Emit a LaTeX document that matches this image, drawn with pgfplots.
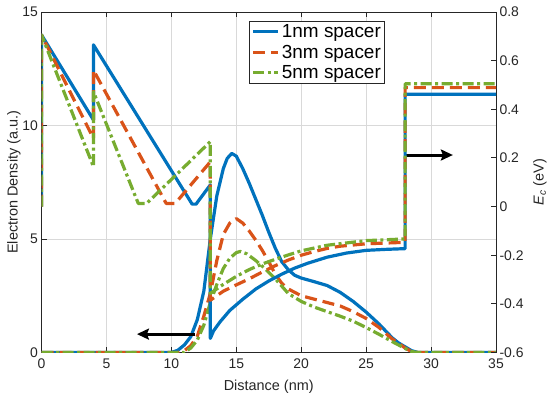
\documentclass[border=0pt]{standalone}
\usepackage{fontspec}
\setmainfont{Liberation Sans}
\usepackage{pgfplots}
\pgfplotsset{compat=1.18}
\usetikzlibrary{arrows.meta}
\definecolor{mblue}{RGB}{0,114,189}
\definecolor{morange}{RGB}{217,83,25}
\definecolor{mgreen}{RGB}{119,172,48}
\definecolor{axgray}{RGB}{38,38,38}
\begin{document}
\begin{tikzpicture}
\path[use as bounding box] (0,0) rectangle (548bp,395bp);
\pgfplotsset{
  common/.style={
    width=454.5bp, height=340.5bp, scale only axis,
    at={(41.5bp,42.5bp)}, anchor=south west,
    xmin=0, xmax=35,
    /pgf/number format/assume math mode=true,
    tick label style={font=\fontsize{14}{16}\selectfont, text=axgray},
    label style={font=\fontsize{14.5}{17}\selectfont, text=axgray},
    axis line style={draw=axgray, line width=0.9bp},
    tick style={draw=axgray, line width=0.9bp},
    tick align=inside, major tick length=5bp,
    legend image code/.code={\draw[##1] (0bp,0bp) -- (25bp,0bp);},
  },
  lb/.style={mblue, line width=3.2bp, line join=round},
  lo/.style={morange, line width=3.2bp, line join=round, dash pattern=on 12bp off 6bp},
  lg/.style={mgreen, line width=3.2bp, line join=round, dash pattern=on 11bp off 3.5bp on 3bp off 3.5bp},
}
% ---------------- left axis: electron density ----------------
\begin{axis}[common, ymin=0, ymax=15,
  xtick={0,5,...,35}, ytick={0,5,10,15}, ytick pos=left,
  xticklabel style={yshift=-3bp},
  grid=major, grid style={draw=black!15, line width=0.7bp},
  xlabel={Distance (nm)}, ylabel={Electron Density (a.u.)},
  xlabel style={at={(axis description cs:0.5,-0.1)}, anchor=center},
  ylabel style={at={(axis description cs:-0.0605,0.5)}, anchor=center}]
\addplot[lb] coordinates {(0,0)(10,0)(10.5,0.1)(11,0.33)(11.5,0.7)(12,1.45)(12.5,2.7)(13,5.0)(13.5,6.9)(14,8.1)(14.3,8.55)(14.65,8.77)(15,8.65)(15.5,8.1)(16,7.45)(16.5,6.75)(17,6.05)(17.5,5.3)(18,4.6)(18.5,4.0)(19,3.65)(19.5,3.4)(20,3.28)(21,3.12)(22,2.95)(23,2.65)(24,2.25)(25,1.78)(26,1.25)(27,0.65)(27.5,0.42)(28,0.25)(28.5,0.08)(29,0)(35,0)};
\addplot[lo] coordinates {(0,0)(10.5,0)(11,0.08)(11.5,0.3)(12,0.72)(12.5,1.6)(13,2.6)(13.5,4.05)(14,5.2)(14.5,5.7)(15,5.9)(15.5,5.7)(16,5.35)(16.5,4.95)(17,4.5)(17.5,4.0)(18,3.45)(18.5,3.05)(19,2.8)(20,2.5)(21,2.35)(22,2.2)(23,2.05)(24,1.8)(25,1.5)(26,1.1)(27,0.6)(28,0.2)(28.5,0.04)(29,0)(35,0)};
\addplot[lg] coordinates {(0,0)(11,0)(11.5,0.2)(12,0.55)(12.5,1.2)(13,2.2)(13.5,3.0)(14,3.7)(14.5,4.15)(15,4.4)(15.3,4.45)(15.8,4.35)(16.5,4.05)(17.2,3.7)(18,3.25)(19,2.6)(20,2.25)(21,2.0)(22,1.8)(23,1.6)(24,1.38)(25,1.1)(26,0.8)(27,0.48)(28,0.18)(28.5,0.04)(29,0)(35,0)};
\draw[line width=3bp, -{Stealth[length=12bp,width=11bp,inset=2bp]}] (axis cs:11.82,0.81) -- (axis cs:7.35,0.81);
\draw[line width=3bp, -{Stealth[length=12bp,width=11bp,inset=2bp]}] (axis cs:28.1,8.7) -- (axis cs:31.68,8.7);
\end{axis}
% ---------------- right axis: conduction band ----------------
\begin{axis}[common, ymin=-0.6, ymax=0.8,
  axis y line*=right, axis x line=none,
  ytick={-0.6,-0.4,-0.2,0,0.2,0.4,0.6,0.8},
  ylabel={\textit{E}\textsubscript{\textit{c}} (eV)},
  ylabel style={at={(axis description cs:1.0968,0.5)}, anchor=center},
  legend style={at={(rel axis cs:0.4572,0.9736)}, anchor=north west,
    font=\fontsize{19}{22}\selectfont, draw=axgray, line width=0.9bp, fill=white,
    inner xsep=2bp, inner ysep=1bp, row sep=2bp},
  legend cell align=left]
\addplot[lb] coordinates {(0,0)(0,0.706)(4,0.356)(4,0.665)(11.6,0.01)(11.9,0.01)(13,0.089)(13,-0.542)(13.25,-0.511)(13.75,-0.474)(14.5,-0.427)(15.5,-0.381)(16.5,-0.339)(17.5,-0.306)(18.5,-0.278)(19.5,-0.253)(20.5,-0.233)(22,-0.208)(23.5,-0.191)(25,-0.18)(26.5,-0.176)(28,-0.173)(28,0.462)(35,0.462)};
\addlegendentry{1nm spacer}
\addplot[lo] coordinates {(0,0)(0,0.706)(4,0.280)(4,0.561)(9.6,0.013)(10.3,0.013)(13,0.184)(13,-0.385)(14,-0.348)(15,-0.322)(16,-0.297)(17,-0.269)(18,-0.243)(19,-0.22)(20,-0.2)(21,-0.185)(22,-0.172)(23,-0.163)(25,-0.153)(27,-0.149)(28,-0.147)(28,0.489)(35,0.489)};
\addlegendentry{3nm spacer}
\addplot[lg] coordinates {(0,0)(0,0.706)(4,0.164)(4,0.472)(7.45,0.013)(8.1,0.013)(13,0.267)(13,-0.357)(14,-0.32)(15,-0.287)(16,-0.259)(17,-0.236)(18,-0.217)(19,-0.199)(20,-0.182)(22,-0.159)(25,-0.14)(28,-0.133)(28,0.505)(35,0.505)};
\addlegendentry{5nm spacer}
\end{axis}
\end{tikzpicture}
\end{document}
